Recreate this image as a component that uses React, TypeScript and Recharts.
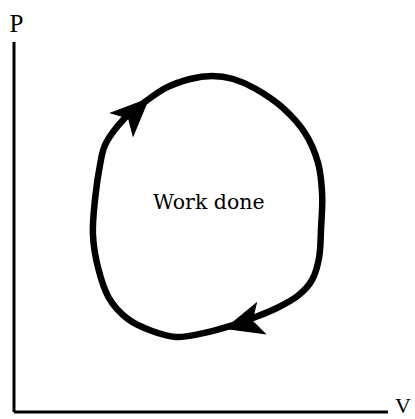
import {
  ComposedChart,
  Line,
  ReferenceDot,
  Scatter,
  XAxis,
  YAxis,
} from "recharts";

// volume / pressure around the cycle, clockwise from the left shoulder
const loopV = [
  2.46, 2.94, 3.5, 4.06, 4.71, 5.29, 5.86, 6.47, 7.19, 7.78, 8.13, 8.24, 8.21,
  8.16, 7.97, 7.59, 7.03, 6.39, 5.7, 4.97, 4.33, 3.69, 3.05, 2.54, 2.25, 2.11,
  2.17, 2.3,
];
const loopP = [
  7.27, 7.92, 8.38, 8.76, 9.0, 9.08, 9.0, 8.73, 8.22, 7.54, 6.73, 5.86, 4.97,
  4.19, 3.57, 3.14, 2.81, 2.54, 2.3, 2.11, 2.03, 2.19, 2.51, 3.08, 3.89, 4.81,
  5.78, 6.68,
];

// arrow tips and their heading (degrees, counter-clockwise from +V)
const arrowV = [3.56, 5.7];
const arrowP = [8.43, 2.27];
const arrowHeading = [44, 196];

const centreText = "Work done";
const centreV = 5.21;
const centreP = 5.69;

const loopData = loopV.map((v, i) => ({ v, p: loopP[i] }));
const arrowData = arrowV.map((v, i) => ({ v, p: arrowP[i], heading: arrowHeading[i] }));

// closed catmull-rom, so the cycle has no seam
function closedLoop(context: any) {
  let pts: number[][] = [];
  return {
    areaStart() {},
    areaEnd() {},
    lineStart() {
      pts = [];
    },
    point(x: number, y: number) {
      pts.push([+x, +y]);
    },
    lineEnd() {
      const n = pts.length;
      if (!n) return;
      context.moveTo(pts[0][0], pts[0][1]);
      for (let i = 0; i < n; i++) {
        const p0 = pts[(i - 1 + n) % n];
        const p1 = pts[i];
        const p2 = pts[(i + 1) % n];
        const p3 = pts[(i + 2) % n];
        context.bezierCurveTo(
          p1[0] + (p2[0] - p0[0]) / 6,
          p1[1] + (p2[1] - p0[1]) / 6,
          p2[0] - (p3[0] - p1[0]) / 6,
          p2[1] - (p3[1] - p1[1]) / 6,
          p2[0],
          p2[1]
        );
      }
      context.closePath();
    },
  };
}

function ArrowHead(props: any) {
  const { cx, cy, payload } = props;
  if (cx == null || cy == null) return null;
  return (
    <path
      d="M2,0 L-35,-16 L-26,0 L-35,16 Z"
      transform={`translate(${cx},${cy}) rotate(${-payload.heading})`}
      fill="#000"
      stroke="#000"
      strokeWidth={1}
      strokeLinejoin="miter"
    />
  );
}

export default function App() {
  return (
    <div style={{ position: "absolute", left: 0, top: 0, background: "#fff" }}>
      <ComposedChart
        width={415}
        height={419}
        data={loopData}
        margin={{ top: 42, right: 27, bottom: 6, left: 13 }}
      >
        <XAxis
          dataKey="v"
          type="number"
          domain={[0, 10]}
          allowDataOverflow
          height={1}
          tick={false}
          tickLine={false}
          axisLine={{ stroke: "#000", strokeWidth: 3 }}
          label={{
            value: "V",
            position: "right",
            offset: 7,
            dy: -7,
            fontFamily: "Liberation Serif",
            fontSize: 22,
            fill: "#000",
          }}
        />
        <YAxis
          dataKey="p"
          type="number"
          domain={[0, 10]}
          allowDataOverflow
          width={1}
          tick={false}
          tickLine={false}
          axisLine={{ stroke: "#000", strokeWidth: 3 }}
          label={{
            value: "P",
            position: "top",
            offset: 10,
            dx: 3,
            fontFamily: "Liberation Serif",
            fontSize: 25,
            fill: "#000",
          }}
        />
        <Line
          dataKey="p"
          type={closedLoop as any}
          stroke="#000"
          strokeWidth={6.5}
          strokeLinejoin="round"
          dot={false}
          activeDot={false}
          isAnimationActive={false}
        />
        <Scatter
          data={arrowData}
          dataKey="p"
          shape={<ArrowHead />}
          isAnimationActive={false}
        />
        <ReferenceDot
          x={centreV}
          y={centreP}
          r={0}
          fill="none"
          stroke="none"
          label={{
            value: centreText,
            position: "center",
            fontFamily: "DejaVu Serif",
            fontSize: 20.5,
            fill: "#000",
          }}
        />
      </ComposedChart>
    </div>
  );
}
